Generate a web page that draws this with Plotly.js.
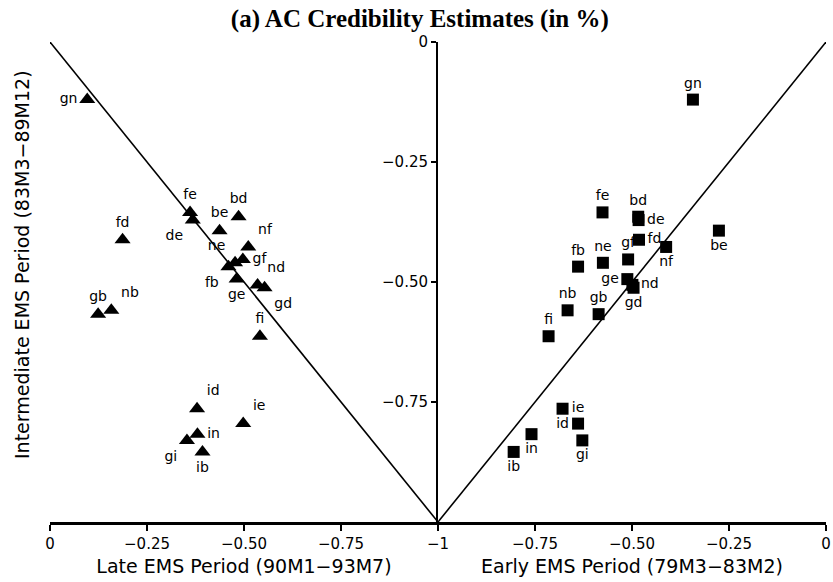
<!DOCTYPE html>
<html>
<head>
<meta charset="utf-8">
<script src="https://cdn.plot.ly/plotly-3.0.1.min.js"></script>
<style>html,body{margin:0;padding:0;background:#fff;}#chart{width:833px;height:582px;}</style>
</head>
<body>
<div id="chart"></div>
<script>
// Country-pair labels
const labels = ['gn','fe','de','be','bd','fd','nf','gf','ne','fb','ge','nd','gd','gb','nb','fi','id','ie','in','gi','ib'];
// Intermediate EMS Period (83M3-89M12) estimates (y, shared by both panels)
const intermediate = [-0.120,-0.355,-0.371,-0.393,-0.364,-0.412,-0.427,-0.453,-0.460,-0.468,-0.494,-0.506,-0.512,-0.567,-0.559,-0.613,-0.764,-0.795,-0.817,-0.830,-0.854];
// Late EMS Period (90M1-93M7) estimates (left panel x)
const late = [-0.096,-0.361,-0.368,-0.437,-0.486,-0.187,-0.511,-0.497,-0.477,-0.460,-0.481,-0.535,-0.553,-0.124,-0.158,-0.541,-0.379,-0.498,-0.380,-0.353,-0.393];
// Early EMS Period (79M3-83M2) estimates (right panel x)
const early = [-0.343,-0.576,-0.483,-0.276,-0.484,-0.482,-0.412,-0.510,-0.575,-0.639,-0.512,-0.499,-0.496,-0.586,-0.666,-0.715,-0.679,-0.639,-0.759,-0.628,-0.805];
// 45-degree reference line
const diag = [0, -1];
// Tick values / labels
const lateTicks = [0, -0.25, -0.5, -0.75];
const lateTickText = ['0', '\u22120.25', '\u22120.50', '\u22120.75'];
const earlyTicks = [-1, -0.75, -0.5, -0.25, 0];
const earlyTickText = ['\u22121', '\u22120.75', '\u22120.50', '\u22120.25', '0'];
const yTicks = [0, -0.25, -0.5, -0.75];
const yTickText = ['0', '\u22120.25', '\u22120.50', '\u22120.75'];

const leftPos = ['middle left','top center','bottom left','top center','top center','top center','top right','middle right','top left','bottom left','bottom center','top right','bottom right','top center','top right','top center','top right','top right','middle right','bottom left','bottom center'];
const rightPos = ['top center','top center','middle right','bottom center','top center','middle right','bottom center','top center','top center','top center','middle left','middle right','bottom center','top center','top center','top center','bottom center','top center','bottom center','bottom center','bottom center'];

const FONT = 'DejaVu Sans, Verdana, sans-serif';
const lblFont = {family: FONT, size: 14, color: '#000'};

const traces = [
  {x: diag, y: diag, xaxis: 'x', yaxis: 'y', mode: 'lines', line: {color: '#000', width: 1.6}, hoverinfo: 'skip', showlegend: false},
  {x: diag, y: diag, xaxis: 'x2', yaxis: 'y', mode: 'lines', line: {color: '#000', width: 1.6}, hoverinfo: 'skip', showlegend: false},
  {x: late, y: intermediate, text: labels, xaxis: 'x', yaxis: 'y', mode: 'markers+text', textposition: leftPos,
   textfont: lblFont, marker: {symbol: 'triangle-up', size: 14, color: '#000'}, cliponaxis: false, showlegend: false},
  {x: early, y: intermediate, text: labels, xaxis: 'x2', yaxis: 'y', mode: 'markers+text', textposition: rightPos,
   textfont: lblFont, marker: {symbol: 'square', size: 12, color: '#000'}, cliponaxis: false, showlegend: false}
];

const baseX = {showgrid: false, zeroline: false, showline: true, linecolor: '#000', linewidth: 2.8,
  ticks: 'outside', ticklen: 6, tickwidth: 1.5, tickcolor: '#000',
  tickfont: {family: FONT, size: 15, color: '#000'}, fixedrange: true};

const layout = {
  width: 833, height: 582,
  margin: {l: 50, r: 7, t: 42, b: 60},
  paper_bgcolor: '#fff', plot_bgcolor: '#fff',
  showlegend: false,
  title: {text: '<b>(a) AC Credibility Estimates (in %)</b>', font: {family: 'Liberation Serif, Times New Roman, serif', size: 25, color: '#000'},
          x: 0.504, xref: 'container', xanchor: 'center', y: 0.969, yref: 'container', yanchor: 'middle'},
  xaxis: Object.assign({}, baseX, {domain: [0, 0.5], range: [0, -1], anchor: 'y', tickvals: lateTicks, ticktext: lateTickText,
    title: {text: 'Late EMS Period (90M1\u221293M7)', font: {family: FONT, size: 19, color: '#000'}, standoff: 8}}),
  xaxis2: Object.assign({}, baseX, {domain: [0.5, 1], range: [-1, 0], anchor: 'y', tickvals: earlyTicks, ticktext: earlyTickText,
    title: {text: 'Early EMS Period (79M3\u221283M2)', font: {family: FONT, size: 19, color: '#000'}, standoff: 8}}),
  xaxis3: {overlaying: 'x', anchor: 'y', range: [0, -1], showgrid: false, zeroline: false, showline: false,
    ticks: 'inside', ticklen: 6, tickwidth: 1.5, tickcolor: '#000', tickvals: lateTicks, showticklabels: false, fixedrange: true},
  xaxis4: {overlaying: 'x2', anchor: 'y', range: [-1, 0], showgrid: false, zeroline: false, showline: false,
    ticks: 'inside', ticklen: 6, tickwidth: 1.5, tickcolor: '#000', tickvals: earlyTicks.slice(1), showticklabels: false, fixedrange: true},
  yaxis: {domain: [0, 1], range: [-1, 0], anchor: 'x2', side: 'left', showgrid: false, zeroline: false,
    showline: true, linecolor: '#000', linewidth: 2, ticks: 'outside', ticklen: 5, tickwidth: 1.5, tickcolor: '#000',
    tickvals: yTicks, ticktext: yTickText, tickfont: {family: FONT, size: 15, color: '#000'}, fixedrange: true},
  yaxis2: {overlaying: 'y', range: [-1, 0], anchor: 'x2', side: 'left', showgrid: false, zeroline: false, showline: false,
    ticks: 'inside', ticklen: 5, tickwidth: 1.5, tickcolor: '#000', tickvals: yTicks, showticklabels: false, fixedrange: true},
  annotations: [
    {text: 'Intermediate EMS Period (83M3\u221289M12)', textangle: -90, xref: 'paper', yref: 'paper',
     x: (22 - 50) / 776, y: (522 - 265) / 480, xanchor: 'center', yanchor: 'middle', showarrow: false,
     font: {family: FONT, size: 19, color: '#000'}}
  ]
};

Plotly.newPlot('chart', traces, layout, {displayModeBar: false, staticPlot: true});
</script>
</body>
</html>
